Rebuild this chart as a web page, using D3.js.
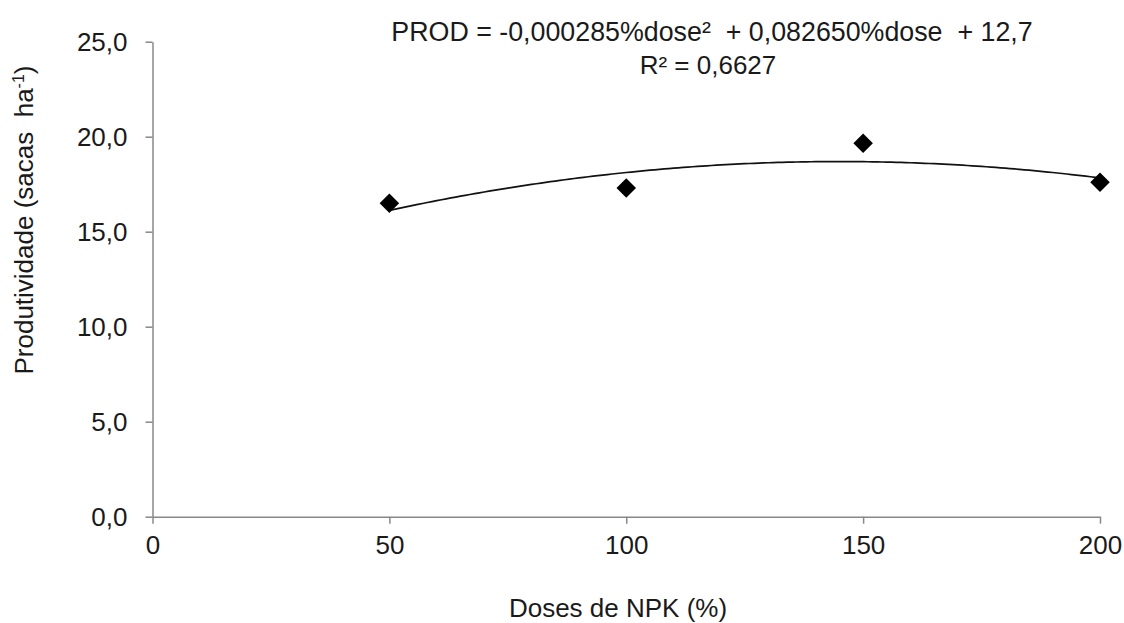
<!DOCTYPE html>
<meta charset="utf-8">
<style>

    body { margin: 0; background: #fff; }
    text { font-family: "Liberation Sans", Arial, sans-serif; fill: #1a1a1a; }
    .axis path, .axis line { stroke: #888; stroke-width: 1.5; }
    .axis text { font-size: 26px; fill: #1a1a1a; font-family: "Liberation Sans", Arial, sans-serif; }
    .trend { fill: none; stroke: #111; stroke-width: 1.7; }
    .pt { fill: #000; }

</style>
<svg width="1124" height="623"></svg>
<script src="https://d3js.org/d3.v7.min.js"></script>
<script>

    // observed yields (sacas/ha) at each NPK dose (%)
    var doses = [50, 100, 150, 200];
    var prod = [16.5, 17.3, 19.65, 17.6];

    // quadratic trend: a*x^2 + b*x + c, as printed on the chart
    var coef = [-0.000285, 0.082650, 12.7];

    var xTicks = [0, 50, 100, 150, 200];
    var yTicks = [0, 5, 10, 15, 20, 25];

    var eqText = "PROD = -0,000285%dose\u00b2  + 0,082650%dose  + 12,7";
    var r2Text = "R\u00b2 = 0,6627";

    var svg = d3.select("svg"),
        width = +svg.attr("width"),
        height = +svg.attr("height");

    var margin = {top: 41.7, right: 24, bottom: 106.3, left: 152.5};

    var x = d3.scaleLinear()
        .domain([0, 200])
        .range([margin.left, width - margin.right]);

    var y = d3.scaleLinear()
        .domain([0, 25])
        .range([height - margin.bottom, margin.top]);

    var ptBR = d3.formatLocale({decimal: ",", thousands: ".", grouping: [3], currency: ["R$", ""]});

    svg.append("g")
        .attr("class", "axis")
        .attr("transform", "translate(0," + y(0) + ")")
        .call(d3.axisBottom(x).tickValues(xTicks).tickSize(7).tickSizeOuter(0).tickPadding(12));

    svg.append("g")
        .attr("class", "axis")
        .attr("transform", "translate(" + x(0) + ",0)")
        .call(d3.axisLeft(y).tickValues(yTicks).tickSize(7).tickSizeOuter(0).tickPadding(18).tickFormat(ptBR.format(".1f")));

    // trend curve sampled along the dose range
    var curveX = d3.range(doses[0], doses[doses.length - 1] + 0.1, 1);
    var line = d3.line()
        .x(function(d) { return x(d); })
        .y(function(d) { return y(coef[0] * d * d + coef[1] * d + coef[2]); });

    svg.append("path")
        .datum(curveX)
        .attr("class", "trend")
        .attr("d", line);

    svg.selectAll(".pt")
        .data(doses)
        .enter().append("path")
        .attr("class", "pt")
        .attr("d", d3.symbol().type(d3.symbolSquare).size(190))
        .attr("transform", function(d, i) { return "translate(" + x(d) + "," + y(prod[i]) + ") rotate(45)"; });

    // equation
    svg.append("text")
        .attr("x", 712)
        .attr("y", 41)
        .attr("text-anchor", "middle")
        .style("font-size", "26.8px")
        .style("white-space", "pre")
        .text(eqText);

    svg.append("text")
        .attr("x", 708)
        .attr("y", 74)
        .attr("text-anchor", "middle")
        .style("font-size", "26px")
        .text(r2Text);

    // axis titles
    svg.append("text")
        .attr("x", 618)
        .attr("y", 617)
        .attr("text-anchor", "middle")
        .style("font-size", "26px")
        .text("Doses de NPK (%)");

    var yl = svg.append("text")
        .attr("transform", "translate(33,220) rotate(-90)")
        .attr("text-anchor", "middle")
        .style("font-size", "26px")
        .style("white-space", "pre");
    yl.append("tspan").text("Produtividade (sacas  ha");
    yl.append("tspan").attr("dy", -9).style("font-size", "16px").text("-1");
    yl.append("tspan").attr("dy", 9).text(")");

</script>
